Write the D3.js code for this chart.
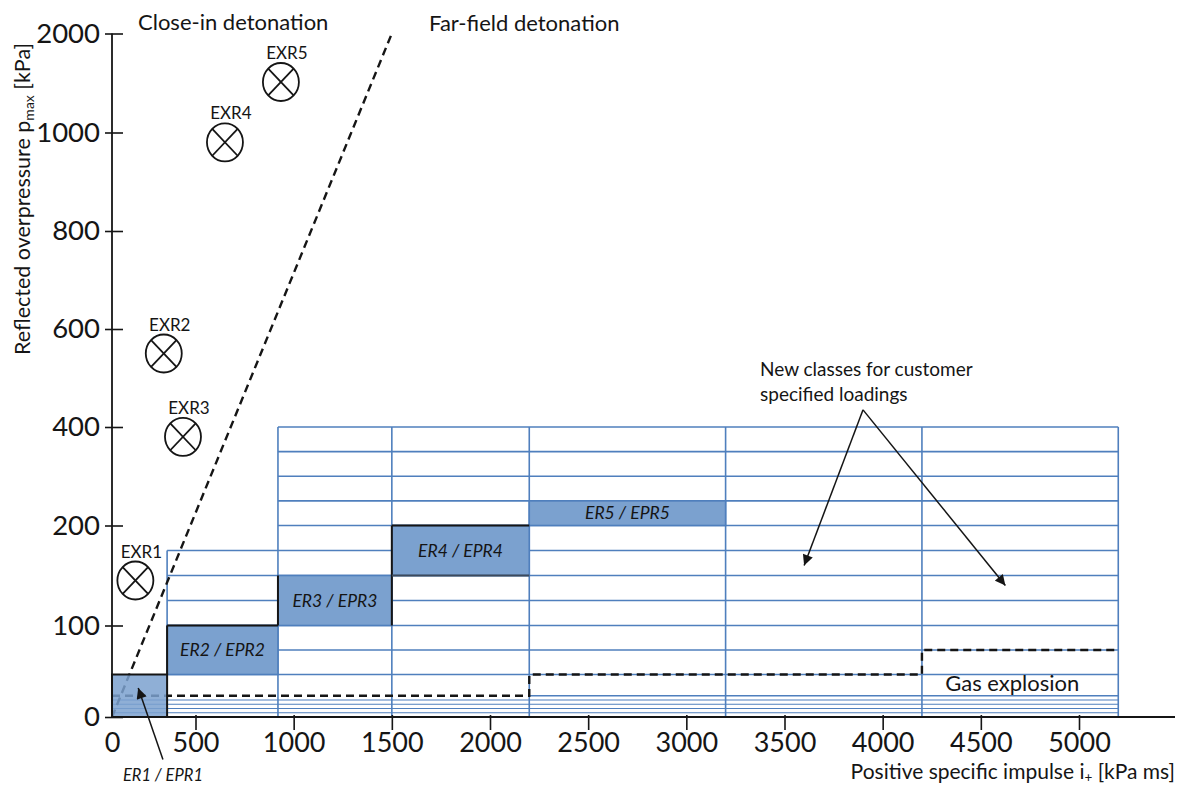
<!DOCTYPE html>
<html><head><meta charset="utf-8">
<script src="https://cdn.jsdelivr.net/npm/d3@7"></script>
<style>
body{margin:0;background:#fff}
svg{display:block}
text{font-family:Lato,'Open Sans',sans-serif;fill:#151515}
</style>
</head><body>
<svg id="chart" width="1179" height="786"></svg>
<script>
// ---------------- data ----------------
const xTicks = [0,500,1000,1500,2000,2500,3000,3500,4000,4500,5000];
const yTicks = [0,100,200,400,600,800,1000,2000];

// resistance classes (impulse range, pressure range)
const classNames     = ["ER1 / EPR1","ER2 / EPR2","ER3 / EPR3","ER4 / EPR4","ER5 / EPR5"];
const classImpStart  = [0, 330, 920, 1500, 2200];
const classImpEnd    = [330, 920, 1500, 2200, 3200];
const classPresLow   = [0, 50, 100, 150, 200];
const classPresHigh  = [50, 100, 150, 200, 250];

// grid of new classes
const gridColumns    = [330, 920, 1500, 2200, 3200, 4200, 5200];
const gridColumnTop  = [175, 400, 400, 400, 400, 400, 400];
const gridRows       = [400, 350, 300, 250, 200, 175, 150, 125, 100, 75, 50, 25, 20, 15, 10, 5];
const gridRowStart   = [920, 920, 920, 920, 920, 330, 330, 330, 330, 330, 330, 2200, 0, 0, 0, 0];
const gridRowEnd     = 5200;

// gas explosion envelope
const gasImpulse  = [0, 2200, 2200, 4200, 4200, 5200];
const gasPressure = [25, 25, 50, 50, 75, 75];

// close-in / far-field boundary
const boundaryImpulse  = [0, 1500];
const boundaryPressure = [0, 2000];

// EXR classes
const exrNames    = ["EXR1","EXR2","EXR3","EXR4","EXR5"];
const exrImpulse  = [140, 310, 425, 650, 935];
const exrPressure = [145, 550, 380, 980, 1510];

// annotation arrows
const customerApex = [3900, 435];
const customerTips = [[3600, 160], [4625, 140]];
const er1ArrowFrom = [305, -50];
const er1ArrowTo   = [157, 34];

// ---------------- scales ----------------
const svg = d3.select("#chart");
svg.append("rect").attr("width",1179).attr("height",786).attr("fill","#fff");

const x = d3.scaleLinear().domain([0,500,5000]).range([112,195.5,1079]);
const y = d3.scaleLinear().domain([0,50,100,200,400,600,800,1000,2000])
            .range([717,674.5,625.5,525.5,427,329,231,132.5,33.5]);

const BLUE = "#4f7fbd", FILL = "#7ba1cf", INK = "#151515";

const defs = svg.append("defs");
defs.append("marker").attr("id","ah").attr("viewBox","0 0 10 10")
  .attr("refX",10).attr("refY",5).attr("markerWidth",8).attr("markerHeight",7)
  .attr("orient","auto").append("path").attr("d","M0,0L10,5L0,10z").attr("fill",INK);

// ---------------- grid ----------------
const grid = svg.append("g");
grid.selectAll("line.h").data(gridRows).join("line")
  .attr("x1",(d,i)=>x(gridRowStart[i])).attr("x2",x(gridRowEnd))
  .attr("y1",d=>y(d)).attr("y2",d=>y(d))
  .attr("stroke",BLUE).attr("stroke-width",d=>d<25?1.2:1.6);
grid.selectAll("line.v").data(gridColumns).join("line")
  .attr("x1",d=>x(d)).attr("x2",d=>x(d))
  .attr("y1",(d,i)=>y(gridColumnTop[i])).attr("y2",y(0))
  .attr("stroke",BLUE).attr("stroke-width",1.6);

// ---------------- class boxes ER2..ER5 ----------------
const boxes = svg.append("g");
const idx = d3.range(1, classNames.length);
boxes.selectAll("rect").data(idx).join("rect")
  .attr("x",i=>x(classImpStart[i])).attr("width",i=>x(classImpEnd[i])-x(classImpStart[i]))
  .attr("y",i=>y(classPresHigh[i])).attr("height",i=>y(classPresLow[i])-y(classPresHigh[i]))
  .attr("fill",FILL).attr("stroke",BLUE).attr("stroke-width",1.6);
boxes.selectAll("text").data(idx).join("text")
  .attr("x",i=>(x(classImpStart[i])+x(classImpEnd[i]))/2)
  .attr("y",i=>(y(classPresLow[i])+y(classPresHigh[i]))/2)
  .attr("dy","0.36em").attr("text-anchor","middle")
  .attr("font-style","italic").attr("font-size",17.5)
  .text(i=>classNames[i]);

// ---------------- dashed lines ----------------
const line = d3.line().x(d=>x(d[0])).y(d=>y(d[1]));
svg.append("path").attr("d",line(gasImpulse.map((d,i)=>[d,gasPressure[i]])))
  .attr("fill","none").attr("stroke",INK).attr("stroke-width",2.4).attr("stroke-dasharray","8,5");
svg.append("path").attr("d",line(boundaryImpulse.map((d,i)=>[d,boundaryPressure[i]])))
  .attr("fill","none").attr("stroke",INK).attr("stroke-width",2.4).attr("stroke-dasharray","8,5");

// ---------------- ER1 box (translucent) ----------------
svg.append("rect")
  .attr("x",x(classImpStart[0])).attr("width",x(classImpEnd[0])-x(classImpStart[0]))
  .attr("y",y(classPresHigh[0])).attr("height",y(classPresLow[0])-y(classPresHigh[0]))
  .attr("fill",FILL).attr("fill-opacity",0.85).attr("stroke",INK).attr("stroke-width",2);

// black envelope edges
const edges = [
  [[classImpStart[1],classPresHigh[1]],[classImpEnd[1],classPresHigh[1]]],
  [[classImpStart[1],classPresLow[1]],[classImpStart[1],classPresHigh[1]]],
  [[classImpStart[2],classPresLow[2]],[classImpStart[2],classPresHigh[2]]],
  [[classImpStart[3],classPresLow[2]],[classImpStart[3],classPresHigh[3]]],
  [[classImpStart[3],classPresHigh[3]],[classImpEnd[3],classPresHigh[3]]]
];
svg.append("g").selectAll("path").data(edges).join("path")
  .attr("d",d=>line(d)).attr("stroke",INK).attr("stroke-width",2).attr("fill","none");
svg.append("path").attr("d",line([[classImpStart[3],classPresLow[3]],[classImpEnd[3],classPresLow[3]]]))
  .attr("stroke","#3d4a5c").attr("stroke-width",1.8);

// ---------------- axes ----------------
const xAxis = svg.append("g").attr("transform",`translate(0,${y(0)})`)
  .call(d3.axisBottom(x).tickValues(xTicks).tickSize(13).tickPadding(3).tickFormat(d3.format("d")));
xAxis.select(".domain").remove();
xAxis.selectAll(".tick line").attr("stroke",INK).attr("stroke-width",1.6).attr("y1",-2)
  .attr("display",d=>d===0?"none":null);
xAxis.selectAll(".tick text").attr("font-size",27).attr("font-family","Lato,'Open Sans',sans-serif").attr("fill",INK);
svg.append("line").attr("x1",x(0)).attr("x2",1175).attr("y1",y(0)).attr("y2",y(0))
  .attr("stroke",INK).attr("stroke-width",1.8);

const yAxis = svg.append("g").attr("transform",`translate(${x(0)},0)`)
  .call(d3.axisLeft(y).tickValues(yTicks).tickSize(6).tickPadding(6).tickFormat(d3.format("d")));
yAxis.select(".domain").remove();
yAxis.selectAll(".tick line").attr("stroke",INK).attr("stroke-width",1.6).attr("x2",-7).attr("x1",11);
yAxis.selectAll(".tick text").attr("font-size",27.5).attr("font-family","Lato,'Open Sans',sans-serif").attr("fill",INK);
svg.append("line").attr("x1",x(0)).attr("x2",x(0)).attr("y1",y(2000)).attr("y2",y(0))
  .attr("stroke",INK).attr("stroke-width",1.8);

// axis titles
const yt = svg.append("text").attr("transform","translate(30,199) rotate(-90)")
  .attr("text-anchor","middle").attr("font-size",21.5);
yt.append("tspan").text("Reflected overpressure p");
yt.append("tspan").attr("font-size",14).attr("baseline-shift","-4").text("max");
yt.append("tspan").text(" [kPa]");

const xt = svg.append("text").attr("x",1175).attr("y",779).attr("text-anchor","end").attr("font-size",21);
xt.append("tspan").text("Positive specific impulse i");
xt.append("tspan").attr("font-size",13.5).attr("baseline-shift","-3").text("+");
xt.append("tspan").text(" [kPa ms]");

// ---------------- EXR markers ----------------
const mk = svg.append("g").selectAll("g").data(exrNames).join("g")
  .attr("transform",(d,i)=>`translate(${x(exrImpulse[i])},${y(exrPressure[i])})`);
mk.append("ellipse").attr("rx",18).attr("ry",19).attr("fill","#fff").attr("stroke",INK).attr("stroke-width",1.8);
mk.append("line").attr("x1",-12.7).attr("y1",-13.4).attr("x2",12.7).attr("y2",13.4).attr("stroke",INK).attr("stroke-width",1.8);
mk.append("line").attr("x1",-12.7).attr("y1",13.4).attr("x2",12.7).attr("y2",-13.4).attr("stroke",INK).attr("stroke-width",1.8);
mk.append("text").attr("x",6).attr("y",-23).attr("text-anchor","middle").attr("font-size",17).text(d=>d);

// ---------------- annotations ----------------
svg.append("text").attr("x",138).attr("y",30).attr("font-size",22).text("Close-in detonation");
svg.append("text").attr("x",429).attr("y",31).attr("font-size",22).text("Far-field detonation");
svg.append("text").attr("x",x(4660)).attr("y",y(0)-26).attr("text-anchor","middle").attr("font-size",22).text("Gas explosion");

const nc = svg.append("text").attr("font-size",19);
nc.append("tspan").attr("x",760).attr("y",376).text("New classes for customer");
nc.append("tspan").attr("x",760).attr("y",401).text("specified loadings");

customerTips.forEach(t=>{
  svg.append("line").attr("x1",x(customerApex[0])).attr("y1",y(customerApex[1]))
    .attr("x2",x(t[0])).attr("y2",y(t[1])).attr("stroke",INK).attr("stroke-width",1.5)
    .attr("marker-end","url(#ah)");
});
svg.append("line").attr("x1",x(er1ArrowFrom[0])).attr("y1",y(er1ArrowFrom[1]))
  .attr("x2",x(er1ArrowTo[0])).attr("y2",y(er1ArrowTo[1])).attr("stroke",INK).attr("stroke-width",1.5)
  .attr("marker-end","url(#ah)");
svg.append("text").attr("x",x(er1ArrowFrom[0])).attr("y",781).attr("text-anchor","middle")
  .attr("font-style","italic").attr("font-size",16.5).text(classNames[0]);
</script>
</body></html>
